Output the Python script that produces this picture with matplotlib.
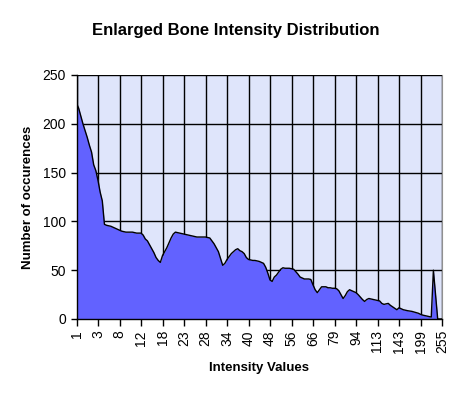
import matplotlib
matplotlib.use("Agg")
import matplotlib.pyplot as plt
import numpy as np

# tick labels shown every 10th category
tick_labels = ["1", "3", "8", "12", "18", "23", "28", "34", "40", "48",
               "56", "66", "79", "94", "113", "143", "199", "255"]

# occurrence counts for each category (171 categories)
counts = [
    221, 216, 208, 200, 193, 186, 178, 171, 158, 152,
    142, 130, 121, 97, 96, 95.5, 95, 94, 93, 92,
    91, 90, 89.5, 89, 89, 89, 89, 88.5, 88, 88,
    88, 86, 82, 80, 76, 72, 68, 63, 60, 58,
    65, 69, 73, 78, 83, 87, 89, 88.5, 88, 87.5,
    87, 86.5, 86, 85.5, 85, 84.5, 84, 84, 84, 84,
    84, 83.5, 83, 80, 77, 73, 69, 62, 55, 57,
    61, 64, 67, 69, 71, 72, 70, 69, 67, 63,
    61, 60.5, 60, 60, 59.5, 59, 58, 57, 53, 47,
    40, 38.5, 43, 45, 48, 51, 52.5, 52, 52, 52,
    51.5, 51, 48.5, 46, 43, 42, 41, 41, 41, 40.5,
    35, 30, 27, 30, 33, 33, 33, 32, 32, 31.5,
    31.5, 31, 29, 25, 21, 24, 28, 30, 29, 28,
    27, 25, 22.5, 20, 18, 20, 21, 20.5, 20, 19.5,
    19, 18.5, 16, 15, 15.5, 16, 14, 12.5, 11, 9.5,
    11.5, 10.5, 9.5, 9, 8.5, 8.2, 7.8, 7.2, 6.5, 5.9,
    4.8, 4, 3.5, 3, 2.5, 2, 50, 25, 0, 0,
    0,
]

title = "Enlarged Bone Intensity Distribution"
xlabel = "Intensity Values"
ylabel = "Number of occurences"

plt.rcParams['font.family'] = ['Liberation Sans', 'DejaVu Sans']

fig = plt.figure(figsize=(4.71, 3.94), dpi=100)
ax = fig.add_axes([76.5 / 471, 1 - 319 / 394, (442 - 76.5) / 471, (319 - 75) / 394])

x = np.arange(len(counts))
ax.set_facecolor("#dfe5fb")
ax.fill_between(x, counts, 0, color="#6262ff", linewidth=0, zorder=2)
ax.plot(x, counts, color="black", linewidth=1.0, zorder=3)

ax.set_xlim(0, len(counts) - 1)
ax.set_ylim(0, 250)
tick_pos = np.arange(0, len(counts), 10)
ax.set_xticks(tick_pos)
ax.set_xticklabels(tick_labels, rotation=90, fontsize=10)
ax.set_yticks(np.arange(0, 251, 50))
ax.tick_params(axis="y", labelsize=10, length=4, width=1, direction="out")
ax.tick_params(axis="x", length=5, width=1, direction="out", pad=3)

ax.grid(True, color="black", linewidth=1.0, zorder=1)
ax.set_axisbelow(True)
ax.spines["top"].set_visible(False)
ax.spines["right"].set_color("#909090")
ax.spines["left"].set_linewidth(1.0)
ax.spines["bottom"].set_linewidth(1.0)
ax.spines["bottom"].set_zorder(4)

fig.text(0.5, 1 - 30 / 394, title, ha="center", va="center",
         fontsize=12, fontweight="bold")
ax.set_xlabel(xlabel, fontsize=9.5, fontweight="bold", labelpad=6)
ax.set_ylabel(ylabel, fontsize=9.5, fontweight="bold", labelpad=6)

fig.savefig("out.png", dpi=100, facecolor="white")
